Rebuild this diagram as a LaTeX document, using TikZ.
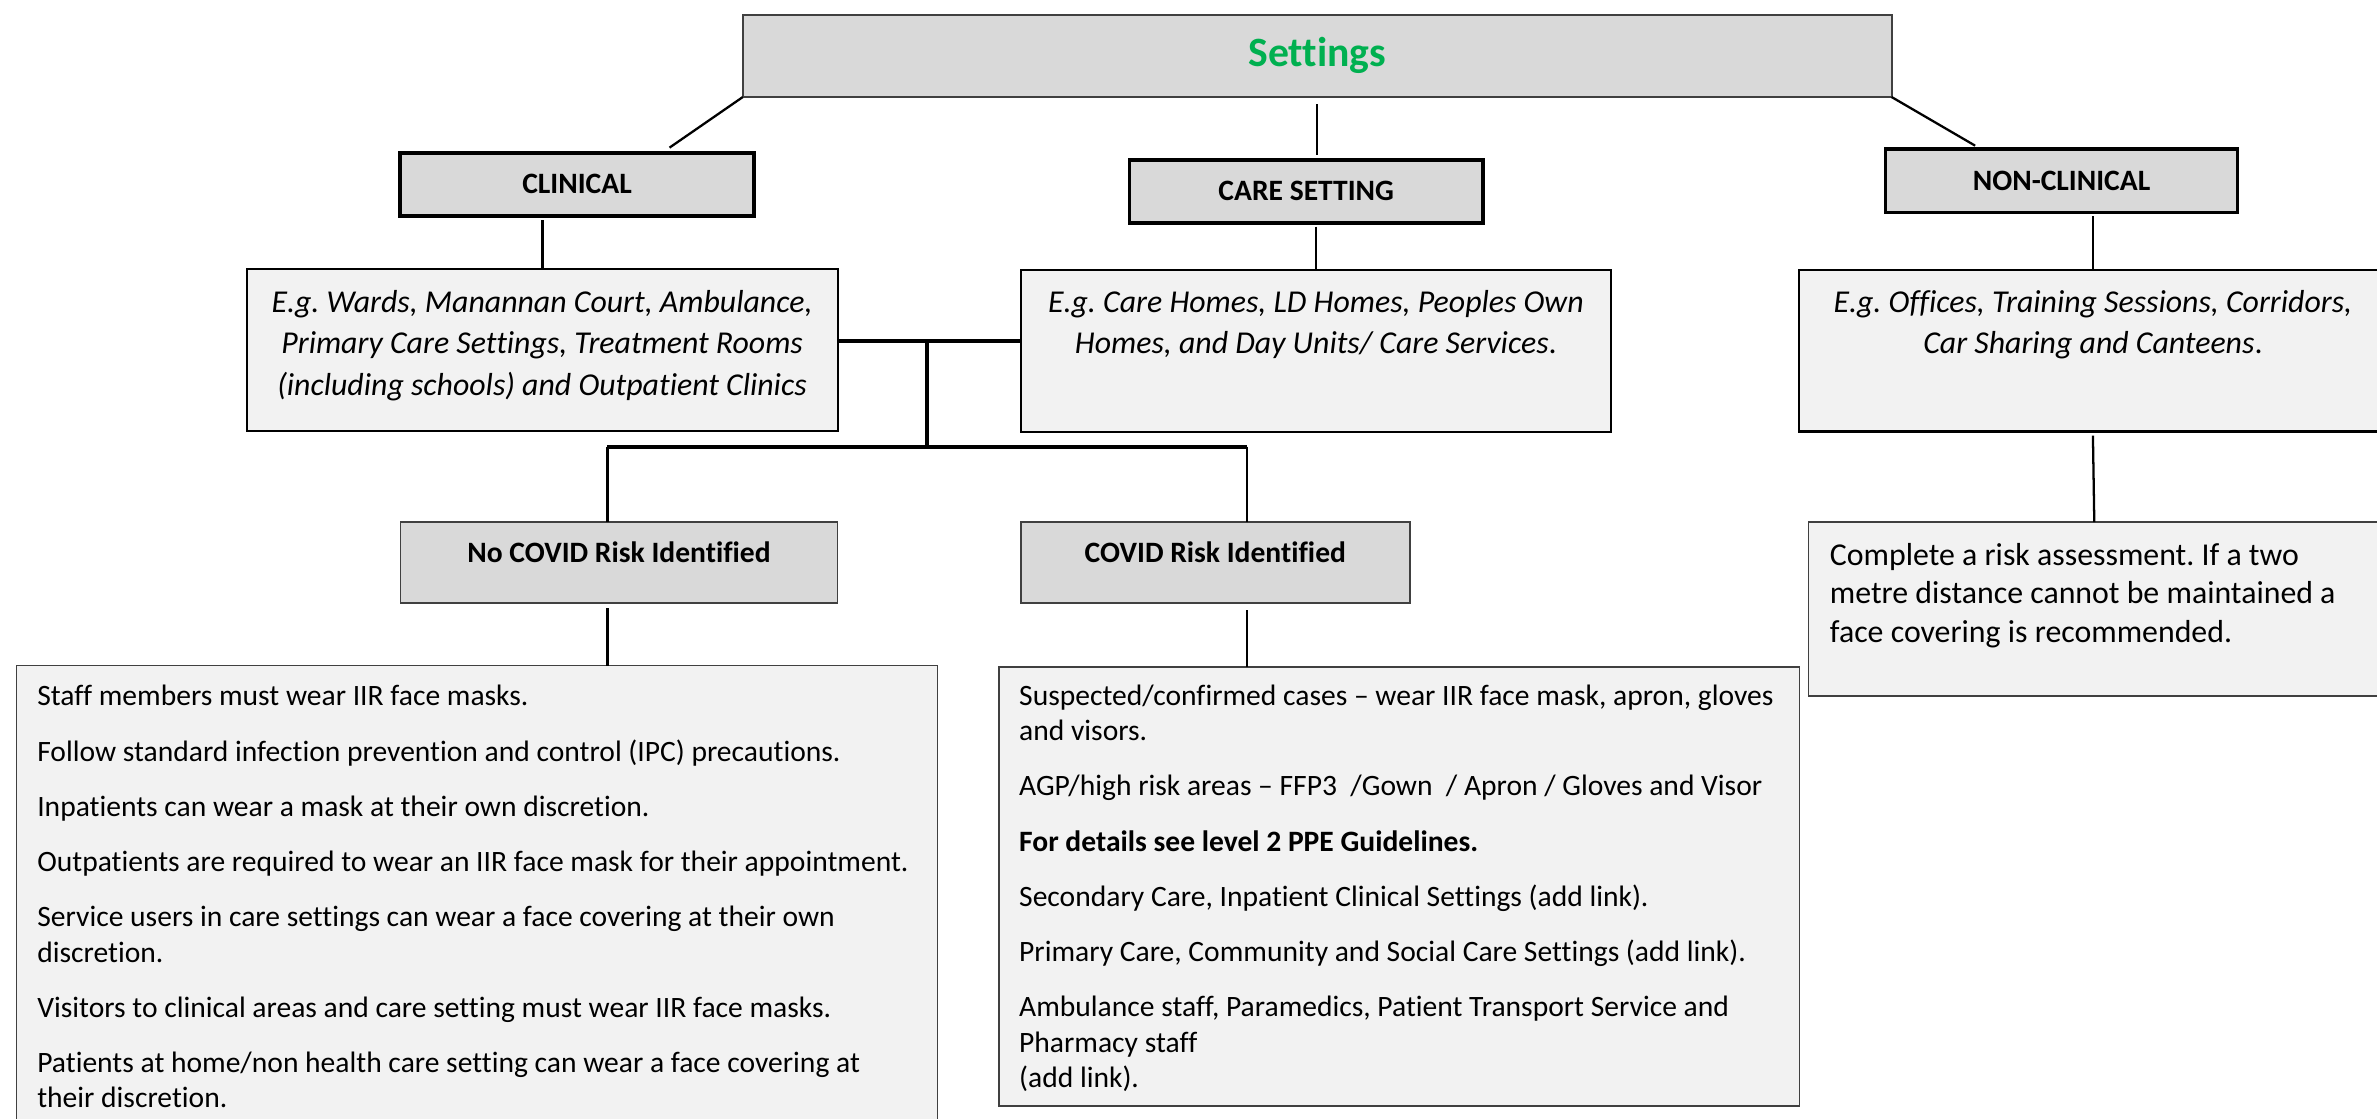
\documentclass[tikz,border=0pt]{standalone}
\usepackage{fontspec}
\setmainfont{Carlito}[Ligatures={TeX,NoCommon}]
\frenchspacing
\usetikzlibrary{calc}
\definecolor{headgray}{HTML}{D9D9D9}
\definecolor{notegray}{HTML}{F2F2F2}
\definecolor{settingsgreen}{HTML}{00B050}
\definecolor{edgegray}{HTML}{404040}
\newcommand{\bodyfont}{\fontsize{19.5}{23.4}\selectfont}
\newcommand{\egfont}{\fontsize{21}{27.5}\selectfont\itshape}

\begin{document}
\begin{tikzpicture}[x=1pt, y=-1pt,
    titlebox/.style={draw=edgegray, line width=1.2pt, fill=headgray, inner sep=0pt, outer sep=0pt, anchor=north west},
    headbox/.style={draw=black, line width=2.4pt, fill=headgray, inner sep=0pt, outer sep=0pt, anchor=north west, font=\fontsize{19.5}{23.4}\selectfont\bfseries},
    riskbox/.style={draw=edgegray, line width=1.2pt, fill=headgray, inner sep=0pt, outer sep=0pt, anchor=north west, font=\fontsize{19.5}{23.4}\selectfont\bfseries, text depth=14pt},
    egbox/.style={draw=black, line width=1.5pt, fill=notegray, inner sep=0pt, outer sep=0pt, anchor=north west},
    notebox/.style={draw=edgegray, line width=1.2pt, fill=notegray, inner sep=0pt, outer sep=0pt, anchor=north west},
    egtext/.style={anchor=north, inner sep=0pt, align=center, font=\egfont},
    bodytext/.style={anchor=north west, inner sep=0pt, align=left, font=\bodyfont},
    link/.style={draw=black, line width=1.5pt},
    trunk/.style={draw=black, line width=2.4pt}]
    \useasboundingbox (0,0) rectangle (1568,737.5);

    % top
    \node[titlebox, minimum width=757.8pt, minimum height=54.3pt,
        font=\fontsize{27.5}{33}\selectfont\bfseries, text=settingsgreen] (settings) at (490,9.7) {Settings};

    % second row
    \node[headbox, minimum width=233.3pt, minimum height=41.5pt] (clinical) at (264,100.8) {CLINICAL};
    \node[headbox, minimum width=233.3pt, minimum height=41.4pt] (care) at (745,105.5) {CARE SETTING};
    \node[headbox, minimum width=232.2pt, minimum height=41.7pt] (nonclin) at (1243.8,98.5) {NON-CLINICAL};

    % examples
    \node[egbox, minimum width=389.8pt, minimum height=106.7pt] (clin-eg) at (163,177.4) {};
    \node[egtext] (clin-eg-text) at (357.6,186.5) {\strut E.g. Wards, Manannan Court, Ambulance,\\
        Primary Care Settings, Treatment Rooms\\(including schools) and Outpatient Clinics};
    \node[egbox, minimum width=389.3pt, minimum height=106.8pt] (care-eg) at (673.4,178) {};
    \node[egtext] (care-eg-text) at (868,186.5) {\strut E.g. Care Homes, LD Homes, Peoples Own\\
        Homes, and Day Units/ Care Services{\upshape.}};
    \node[egbox, minimum width=388pt, minimum height=106.7pt] (nonclin-eg) at (1186.6,177.9) {};
    \node[egtext] (nonclin-eg-text) at (1380.6,186.5) {\strut E.g. Offices, Training Sessions, Corridors,\\
        Car Sharing and Canteens{\upshape.}};

    % risk rows
    \node[riskbox, minimum width=288.2pt, minimum height=53.6pt] (nocovid) at (264.2,344.4) {No COVID Risk Identified};
    \node[riskbox, minimum width=256.6pt, minimum height=53.9pt] (covid) at (673.4,344.1) {COVID Risk Identified};
    \node[notebox, minimum width=377pt, minimum height=114.6pt] (risk) at (1193,344.4) {};
    \node[bodytext, font=\fontsize{21}{25.3}\selectfont] (risk-text) at (1206.9,355) {\strut Complete a risk assessment. If a two\\
        metre distance cannot be maintained a\\face covering is recommended.};

    % guidance
    \node[notebox, minimum width=607.5pt, minimum height=330pt] (nocovid-note) at (10.9,439) {};
    \node[bodytext] (nocovid-text) at (24.4,449.1) {\strut Staff members must wear IIR face masks.\\[13pt]
        Follow standard infection prevention and control (IPC) precautions.\\[13pt]
        Inpatients can wear a mask at their own discretion.\\[13pt]
        Outpatients are required to wear an IIR face mask for their appointment.\\[13pt]
        Service users in care settings can wear a face covering at their own\\discretion.\\[13pt]
        Visitors to clinical areas and care setting must wear IIR face masks.\\[13pt]
        Patients at home/non health care setting can wear a face covering at\\their discretion.};
    \node[notebox, minimum width=528pt, minimum height=289.8pt] (covid-note) at (659,439.8) {};
    \node[bodytext] (covid-text) at (672.1,448.6) {\strut Suspected/confirmed cases -- wear IIR face mask, apron, gloves\\and visors.\\[13pt]
        AGP/high risk areas -- FFP3\ \ /Gown\ \ / Apron / Gloves and Visor\\[13pt]
        \textbf{For details see level 2 PPE Guidelines.}\\[13pt]
        Secondary Care, Inpatient Clinical Settings (add link).\\[13pt]
        Primary Care, Community and Social Care Settings (add link).\\[13pt]
        Ambulance staff, Paramedics, Patient Transport Service and\\Pharmacy staff\\(add link).};

    % connectors
    \draw[link] (settings.south west) -- ([xshift=61pt,yshift=3.4pt]clinical.north);
    \draw[link] ([yshift=-4.8pt]settings.south) -- ([yshift=3pt]settings.south |- care.north);
    \draw[link] (settings.south east) -- ([xshift=-57pt,yshift=2.4pt]nonclin.north);
    \draw[link] ([yshift=-3pt]clinical.south -| clin-eg.north) -- (clin-eg.north);
    \draw[link] ([yshift=-2.6pt]care.south -| care-eg.north) -- (care-eg.north);
    \draw[link] ([yshift=-2.3pt]nonclin.south -| nonclin-eg.north) -- (nonclin-eg.north);
    \draw[link] ([yshift=-2.8pt]nonclin-eg.south) -- (risk.north);
    \draw[trunk] ([yshift=6pt]clin-eg.east) -- ([yshift=6pt]clin-eg.east -| care-eg.west);
    \coordinate (split) at (611.4,224.7);
    \coordinate (branch) at (611.4,294.7);
    \coordinate (drop-l) at (400.7,294.7);
    \coordinate (drop-r) at (822.7,294.7);
    \draw[trunk] (split) -- (branch);
    \draw[trunk] (drop-l) -- (drop-r);
    \draw[link] (drop-l) -- (drop-l |- nocovid.north);
    \draw[link] (drop-r) -- (drop-r |- covid.north);
    \draw[link] ([yshift=-3.3pt]drop-l |- nocovid.south) -- (drop-l |- nocovid-note.north);
    \draw[link] ([yshift=-4.4pt]drop-r |- covid.south) -- (drop-r |- covid-note.north);
\end{tikzpicture}
\end{document}
